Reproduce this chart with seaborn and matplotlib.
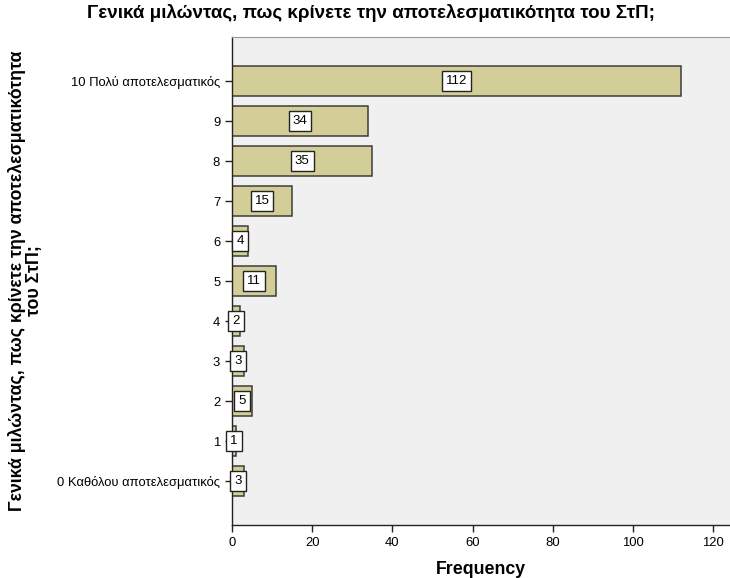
import matplotlib
matplotlib.use("Agg")
import matplotlib.pyplot as plt
import seaborn as sns
import pandas as pd

categories = ["10 Πολύ αποτελεσματικός", "9", "8", "7", "6", "5", "4", "3", "2", "1",
              "0 Καθόλου αποτελεσματικός"]
counts = [112, 34, 35, 15, 4, 11, 2, 3, 5, 1, 3]

title = "Γενικά μιλώντας, πως κρίνετε την αποτελεσματικότητα του ΣτΠ;"
ylabel = "Γενικά μιλώντας, πως κρίνετε την αποτελεσματικότητα\nτου ΣτΠ;"

df = pd.DataFrame({"category": categories, "count": counts})

sns.set_style("white")
plt.rcParams["font.family"] = ["Liberation Sans", "DejaVu Sans"]
plt.rcParams["text.color"] = "black"
plt.rcParams["axes.labelcolor"] = "black"
plt.rcParams["xtick.color"] = "black"
plt.rcParams["ytick.color"] = "black"

fig = plt.figure(figsize=(7.3, 5.78), dpi=100)
ax = fig.add_axes([232 / 730, 1 - 525 / 578, 1 - 232 / 730, (525 - 37) / 578])
ax.set_facecolor("#F0F0F0")

sns.barplot(data=df, x="count", y="category", order=categories, orient="h",
            color="#D3CE97", saturation=1, width=0.75,
            edgecolor="#3c3c3c", linewidth=1.1, ax=ax)

ax.bar_label(ax.containers[0], labels=[str(c) for c in counts], label_type="center",
             fontsize=9.5, color="black",
             bbox=dict(boxstyle="square,pad=0.3", facecolor="white",
                       edgecolor="#222222", linewidth=1.0))

ax.set_xlim(0, 124.2)
ax.set_ylim(len(categories) - 1 + 1.1, -1.1)
ax.set_xticks([0, 20, 40, 60, 80, 100, 120])

ax.spines["right"].set_visible(False)
ax.spines["top"].set_color("#999999")
ax.spines["top"].set_linewidth(0.8)
ax.spines["left"].set_color("#222222")
ax.spines["bottom"].set_color("#222222")
ax.spines["left"].set_linewidth(1.0)
ax.spines["bottom"].set_linewidth(1.0)

ax.tick_params(axis="both", which="major", direction="out", length=5, width=1,
               color="#222222", labelsize=9.4, bottom=True, left=True)

ax.set_xlabel("Frequency", fontsize=12.8, fontweight="bold", labelpad=9)
ax.set_ylabel(ylabel, fontsize=12.8, fontweight="bold", linespacing=0.95)
ax.yaxis.set_label_coords(-0.38, 0.5)

fig.text(0.508, 0.978, title, ha="center", va="center", fontsize=13.5,
         fontweight="bold")

fig.savefig("out.png", dpi=100)
